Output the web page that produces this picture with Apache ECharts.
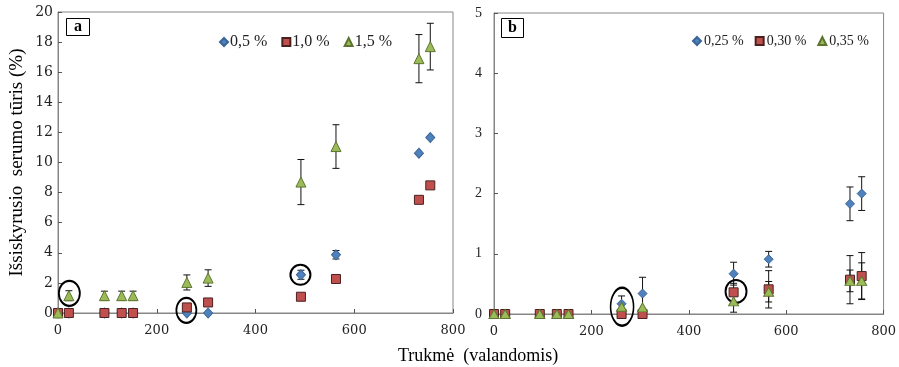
<!DOCTYPE html>
<html><head><meta charset="utf-8">
<script src="https://cdn.jsdelivr.net/npm/echarts@6/dist/echarts.min.js"></script>
<style>html,body{margin:0;padding:0;background:#fff}#c{width:899px;height:367px}</style>
</head><body><div id="c"></div>
<script>
// ---- Data: panel a ----
var timeA = [0, 22, 94, 129, 152, 261, 304, 492, 563, 731, 754];
var a05 = [0, 0, 0, 0, 0, 0, 0, 2.54, 3.87, 10.62, 11.66];
var a05err = [0, 0, 0, 0, 0, 0, 0, 0.3, 0.28, 0, 0];
var a10 = [0, 0, 0, 0, 0, 0.37, 0.7, 1.08, 2.26, 7.52, 8.48];
var a15 = [0, 1.15, 1.15, 1.15, 1.15, 2.03, 2.32, 8.7, 11.06, 16.9, 17.7];
var a15err = [0, 0.33, 0.3, 0.3, 0.3, 0.5, 0.55, 1.5, 1.45, 1.6, 1.55];
var namesA = ['0,5 %', '1,0 %', '1,5 %'];
// ---- Data: panel b ----
var timeB = [0, 23, 94, 129, 153, 262, 305, 492, 564, 731, 755];
var b025 = [0, 0, 0, 0, 0, 0.17, 0.34, 0.67, 0.91, 1.83, 2.0];
var b025err = [0, 0, 0, 0, 0, 0.13, 0.27, 0.19, 0.13, 0.28, 0.28];
var b030 = [0, 0, 0, 0, 0, 0, 0, 0.36, 0.41, 0.57, 0.63];
var b030err = [0, 0, 0, 0, 0, 0, 0, 0.15, 0.31, 0.4, 0.39];
var b035 = [0, 0, 0, 0, 0, 0.12, 0.11, 0.21, 0.37, 0.55, 0.55];
var b035err = [0, 0, 0, 0, 0, 0, 0, 0.18, 0.17, 0.18, 0.3];
var namesB = ['0,25 %', '0,30 %', '0,35 %'];
// ---- annotation ellipses [x, y] ----
var ringsA = [[23, 1.31], [260, 0.18], [491, 2.54]];
var ringsB = [[263, 0.12], [497, 0.375]];

var FONT = '"Liberation Serif","Times New Roman",serif';
var WIDE = '"DejaVu Serif",serif';
var blue = '#4F81BD', red = '#C0504D', green = '#9BBB59';

function pairs(t, v) { return t.map(function (x, i) { return [x, v[i]]; }); }
function errData(t, v, e) {
  var out = [];
  t.forEach(function (x, i) { if (e[i] > 0) out.push([x, v[i], e[i]]); });
  return out;
}
function errSeries(idx, t, v, e) {
  return {
    type: 'custom', xAxisIndex: idx, yAxisIndex: idx, z: 1, silent: true,
    data: errData(t, v, e),
    renderItem: function (params, api) {
      var x = api.value(0), y = api.value(1), d = api.value(2);
      var top = api.coord([x, y + d]), bot = api.coord([x, y - d]);
      var h = 3.5;
      var st = { stroke: '#111', lineWidth: 1 };
      return { type: 'group', children: [
        { type: 'line', shape: { x1: top[0], y1: top[1], x2: bot[0], y2: bot[1] }, style: st },
        { type: 'line', shape: { x1: top[0] - h, y1: top[1], x2: top[0] + h, y2: top[1] }, style: st },
        { type: 'line', shape: { x1: bot[0] - h, y1: bot[1], x2: bot[0] + h, y2: bot[1] }, style: st }
      ]};
    }
  };
}
function scatter(idx, name, t, v, sym, size, color, border, z) {
  return {
    type: 'scatter', name: name, xAxisIndex: idx, yAxisIndex: idx, z: z,
    symbol: sym, symbolSize: size, data: pairs(t, v),
    itemStyle: { color: color, borderColor: border, borderWidth: 1, opacity: 1 }
  };
}
function rings(idx, pts, size) {
  return {
    type: 'scatter', xAxisIndex: idx, yAxisIndex: idx, z: 10, silent: true,
    data: [], symbolSize: 0,
    markPoint: {
      symbol: 'circle', animation: false,
      data: pts.map(function (p, i) {
        return { coord: p, symbolSize: size[i], label: { show: false },
          itemStyle: { color: 'rgba(0,0,0,0)', borderColor: '#000', borderWidth: 2 } };
      })
    }
  };
}
function xAxis(idx) {
  return {
    type: 'value', gridIndex: idx, min: 0, max: 800, interval: 200,
    axisLine: { show: true, lineStyle: { color: '#868686' } },
    axisTick: { show: true, inside: true, length: 4, lineStyle: { color: '#555' } },
    axisLabel: { color: '#222', fontFamily: WIDE, fontSize: 13, margin: 11 },
    splitLine: { show: false }
  };
}
function yAxis(idx, max, interval, label, extra) {
  var o = {
    type: 'value', gridIndex: idx, min: 0, max: max, interval: interval,
    axisLine: { show: true, lineStyle: { color: '#868686' } },
    axisTick: { show: true, inside: true, length: 4, lineStyle: { color: '#555' } },
    axisLabel: label,
    splitLine: { show: false }
  };
  for (var k in extra) o[k] = extra[k];
  return o;
}

var chart = echarts.init(document.getElementById('c'), null, { renderer: 'canvas' });
chart.setOption({
  animation: false,
  backgroundColor: '#fff',
  title: [
    { text: 'a', left: 66, top: 18, padding: [1, 8, 1, 8], borderColor: '#000', borderWidth: 1,
      textStyle: { fontFamily: FONT, fontWeight: 'bold', fontSize: 16, color: '#000', lineHeight: 16 } },
    { text: 'b', left: 501, top: 18, padding: [2, 7, 2, 7], borderColor: '#000', borderWidth: 1,
      textStyle: { fontFamily: FONT, fontWeight: 'bold', fontSize: 16, color: '#000', lineHeight: 16 } }
  ],
  graphic: [
    { type: 'text', left: 398, top: 347, style: { text: 'Trukmė  (valandomis)', font: '18px ' + FONT, fill: '#000' } }
  ],
  legend: [
    { data: namesA, left: 219, top: 34, padding: 0, itemGap: 14, itemWidth: 8, itemHeight: 8, selectedMode: false,
      textStyle: { fontFamily: FONT, fontSize: 16, color: '#222', padding: [0, 0, 0, -3] } },
    { data: namesB, left: 692, top: 34, padding: 0, itemGap: 11, itemWidth: 8, itemHeight: 8, selectedMode: false,
      textStyle: { fontFamily: FONT, fontSize: 14, color: '#222', padding: [0, 0, 0, -2] } }
  ],
  grid: [
    { left: 58, right: 446, top: 12, bottom: 54, show: true, borderColor: '#868686', borderWidth: 1, backgroundColor: 'transparent' },
    { left: 494, right: 13, top: 13, bottom: 53, show: true, borderColor: '#868686', borderWidth: 1, backgroundColor: 'transparent' }
  ],
  xAxis: [xAxis(0), xAxis(1)],
  yAxis: [
    yAxis(0, 20, 2, { color: '#222', fontFamily: WIDE, fontSize: 14, margin: 5 },
      { name: 'Išsiskyrusio  serumo tūris (%)', nameLocation: 'middle', nameGap: 31,
        nameTextStyle: { fontFamily: FONT, fontSize: 19, color: '#000' } }),
    yAxis(1, 5, 1, { color: '#222', fontFamily: FONT, fontSize: 14, margin: 12 }, {})
  ],
  series: [
    errSeries(0, timeA, a05, a05err),
    errSeries(0, timeA, a15, a15err),
    scatter(0, namesA[0], timeA, a05, 'diamond', [9, 10], blue, '#3A6596', 3),
    scatter(0, namesA[1], timeA, a10, 'rect', 9, red, '#4a2020', 4),
    scatter(0, namesA[2], timeA, a15, 'triangle', [10, 10], green, '#5e7531', 5),
    rings(0, ringsA, [[21, 25], [20, 25], [20, 20]]),
    errSeries(1, timeB, b025, b025err),
    errSeries(1, timeB, b030, b030err),
    errSeries(1, timeB, b035, b035err),
    scatter(1, namesB[0], timeB, b025, 'diamond', [9, 9], blue, '#3A6596', 3),
    scatter(1, namesB[1], timeB, b030, 'rect', 9, red, '#4a2020', 4),
    scatter(1, namesB[2], timeB, b035, 'triangle', [10, 9], green, '#5e7531', 5),
    rings(1, ringsB, [[23, 38], [21, 23]])
  ]
});
</script></body></html>
